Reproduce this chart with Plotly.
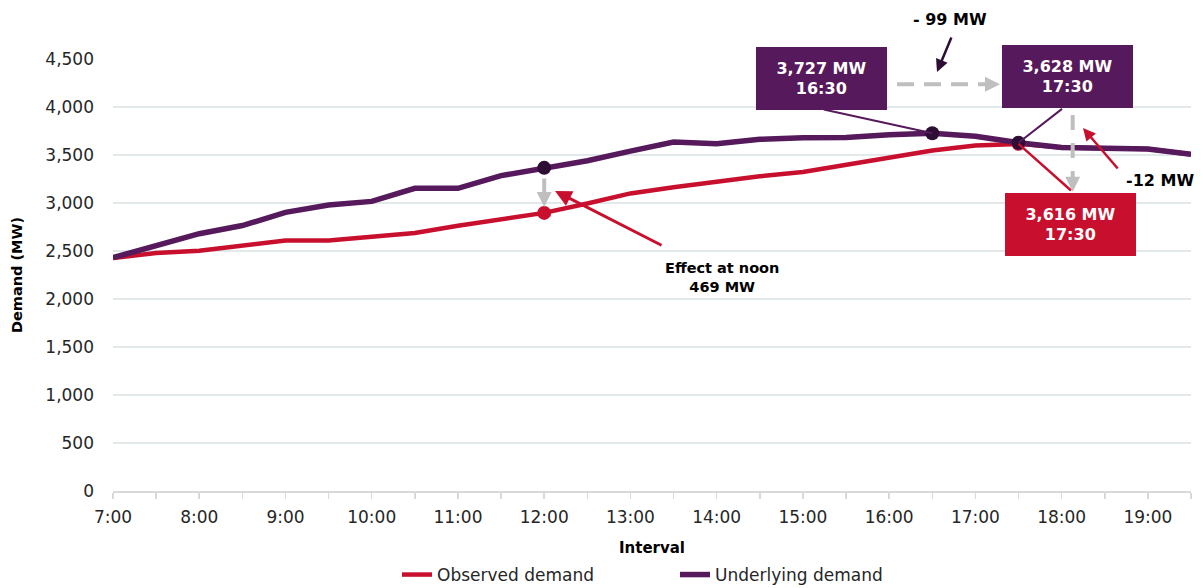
import plotly.graph_objects as go

# ---------------- data ----------------
categories = ["7:00", "7:30", "8:00", "8:30", "9:00", "9:30", "10:00", "10:30",
              "11:00", "11:30", "12:00", "12:30", "13:00", "13:30", "14:00", "14:30",
              "15:00", "15:30", "16:00", "16:30", "17:00", "17:30", "18:00", "18:30",
              "19:00", "19:30"]
observed = [2426, 2478, 2502, 2554, 2610, 2610, 2651, 2687, 2763, 2833, 2897, 2995,
            3100, 3165, 3222, 3278, 3322, 3400, 3476, 3546, 3598, 3616, 3578, 3570,
            3563, 3508]
underlying = [2430, 2562, 2680, 2765, 2902, 2980, 3017, 3153, 3153, 3285, 3366, 3440,
              3540, 3635, 3617, 3663, 3680, 3683, 3712, 3727, 3695, 3628, 3578, 3570,
              3563, 3508]
highlight_observed = ["12:00", "17:30"]
highlight_underlying = ["12:00", "16:30", "17:30"]
y_ticks = [0, 500, 1000, 1500, 2000, 2500, 3000, 3500, 4000, 4500]

RED = "#C8102E"
PURPLE = "#561A5C"
DARK = "#2E0E35"
GRAY = "#BFBFBF"
GRID = "#E3E9EA"
TXT = "#262626"
FONT = "DejaVu Sans"

# ---------------- layout geometry ----------------
W, H = 1203, 588
L, R, T, B = 113, 12, 59, 97
PW, PH = W - L - R, H - T - B


def px(x):
    return (x - L) / PW


def py(y):
    return (H - B - y) / PH


def idx(c):
    return categories.index(c)


fig = go.Figure()
fig.add_trace(go.Scatter(x=categories, y=observed, mode="lines", name="Observed demand",
                         line=dict(color=RED, width=4.5), hoverinfo="skip"))
fig.add_trace(go.Scatter(x=categories, y=underlying, mode="lines", name="Underlying demand",
                         line=dict(color=PURPLE, width=5.5), hoverinfo="skip"))
fig.add_trace(go.Scatter(x=highlight_observed,
                         y=[observed[idx(c)] for c in highlight_observed],
                         mode="markers", marker=dict(color=RED, size=14),
                         showlegend=False, hoverinfo="skip"))
fig.add_trace(go.Scatter(x=highlight_underlying,
                         y=[underlying[idx(c)] for c in highlight_underlying],
                         mode="markers", marker=dict(color=DARK, size=14),
                         showlegend=False, hoverinfo="skip"))

ann = []
shapes = []


def label(cx, cy, text, size=16):
    return dict(x=px(cx), y=py(cy), xref="paper", yref="paper", text=text, showarrow=False,
                xanchor="center", yanchor="middle", align="center",
                font=dict(family=FONT, size=size, color="black"))


def arrow(hx, hy, ax, ay, color, width, size=1.0, head=2):
    return dict(x=px(hx), y=py(hy), xref="paper", yref="paper", text="", showarrow=True,
                ax=ax, ay=ay, arrowhead=head, arrowsize=size, arrowwidth=width,
                arrowcolor=color)


# noon: gray arrow from underlying dot to observed dot
ann.append(dict(x="12:00", y=observed[idx("12:00")], xref="x", yref="y", text="",
                showarrow=True, ax=0, ay=-36, standoff=6, arrowhead=2, arrowsize=0.75,
                arrowwidth=4, arrowcolor=GRAY))
# noon: red arrow + label
ann.append(arrow(555, 191, 108, 55, RED, 3, 1.1))
ann.append(label(722, 277, "<b>Effect at noon<br>469 MW</b>", 14.5))


# boxes
def box(cx, cy, text, color):
    return dict(x=px(cx), y=py(cy), xref="paper", yref="paper", text=text, showarrow=False,
                bgcolor=color, width=131, height=63, borderpad=0, borderwidth=0,
                xanchor="center", yanchor="middle", align="center",
                font=dict(family=FONT, size=16, color="white"))


ann.append(box(821.5, 78, "<b>3,727 MW<br>16:30</b>", PURPLE))
ann.append(box(1067, 77, "<b>3,628 MW<br>17:30</b>", PURPLE))
ann.append(box(1070.5, 224.7, "<b>3,616 MW<br>17:30</b>", RED))

# connectors
ann.append(dict(x="16:30", y=underlying[idx("16:30")], xref="x", yref="y", text="",
                showarrow=True, arrowhead=0, ax=-110, ay=-24, arrowwidth=2, arrowcolor=PURPLE))
ann.append(dict(x="17:30", y=underlying[idx("17:30")], xref="x", yref="y", text="",
                showarrow=True, arrowhead=0, ax=45, ay=-35, arrowwidth=2, arrowcolor=PURPLE))
ann.append(dict(x="17:30", y=observed[idx("17:30")], xref="x", yref="y", text="",
                showarrow=True, arrowhead=0, ax=54, ay=48, arrowwidth=2.5, arrowcolor=RED))

# dashed horizontal arrow (-99)
shapes.append(dict(type="line", xref="paper", yref="paper", x0=px(897), x1=px(986),
                   y0=py(84.3), y1=py(84.3), line=dict(color=GRAY, width=4, dash="17px,10px")))
ann.append(arrow(1000, 84.3, -14, 0, GRAY, 4, 0.75))
ann.append(label(950, 19, "<b>- 99 MW</b>"))
ann.append(arrow(937, 72, 15, -36, DARK, 2.5, 1.0))

# dashed vertical arrow (-12)
shapes.append(dict(type="line", xref="paper", yref="paper", x0=px(1072.7), x1=px(1072.7),
                   y0=py(115), y1=py(178), line=dict(color=GRAY, width=4, dash="15px,13px")))
ann.append(arrow(1072.7, 191.7, 0, -14, GRAY, 4, 0.75))
ann.append(label(1160, 180, "<b>-12 MW</b>"))
ann.append(arrow(1083, 128, 36, 42, RED, 2.5, 1.0))

fig.update_layout(
    width=W, height=H,
    margin=dict(l=L, r=R, t=T, b=B, autoexpand=False),
    paper_bgcolor="white", plot_bgcolor="white",
    font=dict(family=FONT, color=TXT, size=17),
    showlegend=True,
    legend=dict(orientation="h", x=px(397), xanchor="left", y=py(575), yanchor="middle",
                font=dict(family=FONT, size=17, color=TXT), itemwidth=30,
                entrywidth=233, traceorder="normal"),
    annotations=ann,
    shapes=shapes,
)
fig.update_xaxes(
    type="category", range=[0, len(categories) - 1],
    tickmode="array", tickvals=categories,
    ticktext=[c if c.endswith(":00") else "" for c in categories],
    ticks="outside", ticklen=6, tickcolor="#D9D9D9", tickwidth=1.5,
    showline=True, linecolor="#D9D9D9", linewidth=1.5,
    showgrid=False, zeroline=False,
    ticklabelstandoff=4,
    tickfont=dict(family=FONT, size=17, color=TXT),
    title=dict(text="<b>Interval</b>", font=dict(family=FONT, size=15, color="black"),
               standoff=16),
)
fig.update_yaxes(
    range=[0, 4500], tickmode="array", tickvals=y_ticks, tickformat=",",
    showgrid=True, gridcolor=GRID, gridwidth=1.5,
    zeroline=False, showline=False, ticks="",
    ticklabelstandoff=18,
    tickfont=dict(family=FONT, size=17, color=TXT),
    title=dict(text="<b>Demand (MW)</b>", font=dict(family=FONT, size=14.5, color="black"),
               standoff=19),
)

fig.write_html("out.html", config={"displayModeBar": False, "staticPlot": True},
               post_script="document.body.style.margin='0';")
